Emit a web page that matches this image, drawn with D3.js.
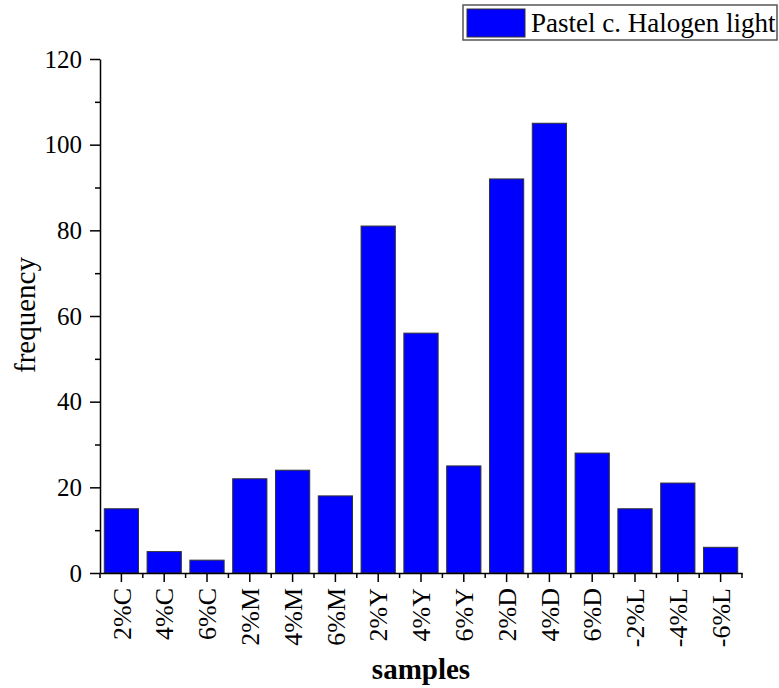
<!DOCTYPE html>
<html><head><meta charset="utf-8">
<script src="https://cdn.jsdelivr.net/npm/d3@7"></script>
<style>body{margin:0;background:#fff}</style>
</head><body>
<svg id="c" width="779" height="688"></svg>
<script>
const categories = ["2%C","4%C","6%C","2%M","4%M","6%M","2%Y","4%Y","6%Y","2%D","4%D","6%D","-2%L","-4%L","-6%L"];
const values = [15,5,3,22,24,18,81,56,25,92,105,28,15,21,6];
const yTicks = [0,20,40,60,80,100,120];
const yMinorTicks = [10,30,50,70,90,110];
const seriesName = "Pastel c. Halogen light";

const svg = d3.select("#c");
const font = "'Liberation Serif','Times New Roman',serif";
const L = 100, R = 742, T = 59, B = 573;
const x = d3.scaleBand().domain(categories).range([L, R]).paddingInner(0.2).paddingOuter(0.1);
const y = d3.scaleLinear().domain([0, 120]).range([B, T]);

// bars
svg.append("g").selectAll("rect").data(values).join("rect")
  .attr("x", (d,i) => x(categories[i]))
  .attr("y", d => y(d))
  .attr("width", x.bandwidth())
  .attr("height", d => B - y(d))
  .attr("fill", "#0000ff")
  .attr("stroke", "#333")
  .attr("stroke-width", 1);

// y axis
const yAxis = svg.append("g").attr("transform", `translate(${L},0)`)
  .call(d3.axisLeft(y).tickValues(yTicks).tickSize(10).tickPadding(8).tickSizeOuter(0));
yAxis.select(".domain").attr("stroke", "#000").attr("stroke-width", 1.5);
yAxis.selectAll(".tick line").attr("stroke-width", 1.5);
yAxis.selectAll("text").attr("font-family", font).attr("font-size", 25).attr("fill", "#000");
svg.append("g").attr("transform", `translate(${L},0)`)
  .call(d3.axisLeft(y).tickValues(yMinorTicks).tickSize(5).tickFormat("").tickSizeOuter(0))
  .call(g => g.select(".domain").remove())
  .selectAll("line").attr("stroke-width", 1.5);

// x axis
const xAxis = svg.append("g").attr("transform", `translate(0,${B})`)
  .call(d3.axisBottom(x).tickSize(9).tickPadding(8).tickSizeOuter(0));
xAxis.select(".domain").attr("stroke", "#000").attr("stroke-width", 1.5);
xAxis.selectAll(".tick line").attr("stroke-width", 1.5);
xAxis.selectAll("text")
  .attr("font-family", font).attr("font-size", 26).attr("fill", "#000")
  .attr("transform", "rotate(-90)")
  .attr("text-anchor", "end")
  .attr("x", -15).attr("y", 0).attr("dy", "0.35em");
// minor x ticks at band boundaries
const step = x.step();
const bounds = categories.map(c => x(c) - step * 0.1).concat([x(categories[categories.length-1]) + x.bandwidth() + step*0.1]);
svg.append("g").selectAll("line").data(bounds).join("line")
  .attr("x1", d => d).attr("x2", d => d)
  .attr("y1", B).attr("y2", B + 5)
  .attr("stroke", "#000").attr("stroke-width", 1.5);

// axis titles
svg.append("text").attr("x", 421).attr("y", 679).attr("text-anchor", "middle")
  .attr("font-family", font).attr("font-size", 29).attr("font-weight", "bold").text("samples");
svg.append("text").attr("transform", `translate(35,315) rotate(-90)`).attr("text-anchor", "middle")
  .attr("font-family", font).attr("font-size", 29).text("frequency");

// legend
const lg = svg.append("g");
lg.append("rect").attr("x", 463).attr("y", 5).attr("width", 314).attr("height", 35)
  .attr("fill", "#fff").attr("stroke", "#555").attr("stroke-width", 1.5);
lg.append("rect").attr("x", 467).attr("y", 9).attr("width", 58).attr("height", 28)
  .attr("fill", "#0000ff").attr("stroke", "#333").attr("stroke-width", 1);
lg.append("text").attr("x", 531).attr("y", 32).attr("font-family", font).attr("font-size", 27)
  .attr("fill", "#000").text(seriesName);
</script>
</body></html>
